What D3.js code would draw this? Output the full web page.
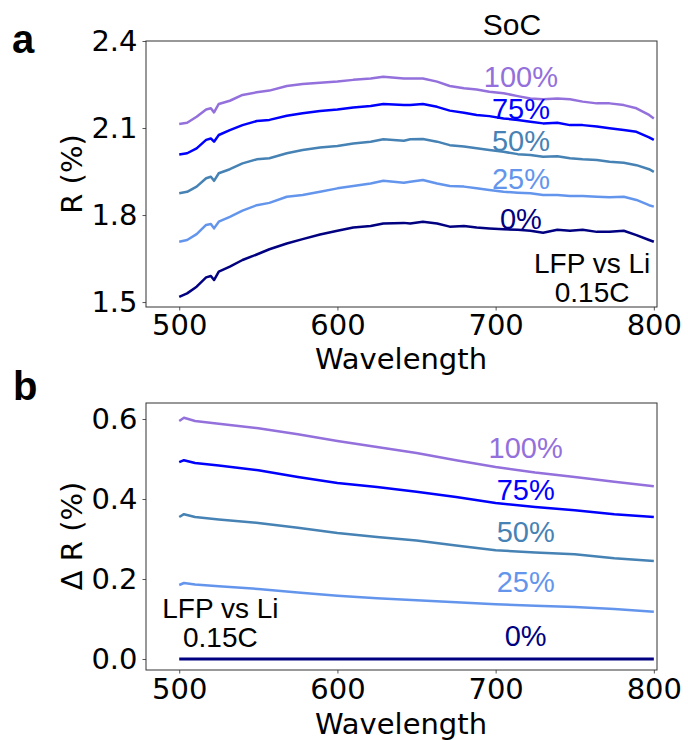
<!DOCTYPE html>
<meta charset="utf-8">
<style>
body { margin: 0; background: #fff; }
.tick text { font: 29px "DejaVu Sans", sans-serif; fill: #000; }
.tick line { stroke: #555; }
.frame { fill: none; stroke: #333; stroke-width: 1; }
.lbl { font-family: "Liberation Sans", Arial, sans-serif; }
</style>
<svg width="688" height="740"></svg>
<script src="https://d3js.org/d3.v7.min.js"></script>
<script>

// panel a: reflectance spectra at each state of charge
var wl = [500,505,511,517,520,522,525,532,540,549,557,568,578,589,600,610,621,629,642,646,
          654,663,671,680,688,696,705,714,722,730,739,747,755,764,772,781,789,797,800];
var r100 = [2.114,2.118,2.139,2.164,2.168,2.154,2.183,2.194,2.214,2.223,2.229,2.245,2.252,2.256,2.260,2.266,2.271,2.277,2.271,2.271,
            2.271,2.260,2.245,2.237,2.233,2.225,2.220,2.210,2.202,2.199,2.202,2.199,2.191,2.185,2.185,2.179,2.168,2.145,2.133];
var r75 = [2.009,2.013,2.030,2.059,2.064,2.053,2.076,2.093,2.110,2.124,2.128,2.142,2.151,2.159,2.164,2.171,2.176,2.183,2.179,2.179,
           2.183,2.173,2.160,2.153,2.145,2.141,2.133,2.128,2.122,2.116,2.118,2.110,2.110,2.105,2.099,2.093,2.087,2.068,2.059];
var r50 = [1.875,1.880,1.898,1.927,1.932,1.918,1.944,1.958,1.978,1.992,1.996,2.013,2.024,2.033,2.038,2.047,2.053,2.061,2.056,2.061,
           2.062,2.053,2.041,2.036,2.030,2.024,2.018,2.010,2.007,2.001,2.003,1.996,1.992,1.990,1.984,1.980,1.972,1.958,1.949];
var r25 = [1.708,1.714,1.734,1.766,1.769,1.754,1.777,1.794,1.815,1.834,1.842,1.863,1.869,1.880,1.892,1.900,1.909,1.918,1.911,1.915,
           1.921,1.909,1.900,1.898,1.892,1.886,1.880,1.877,1.875,1.869,1.869,1.866,1.866,1.863,1.861,1.863,1.852,1.834,1.829];
var r0 = [1.518,1.530,1.553,1.585,1.590,1.576,1.605,1.622,1.645,1.664,1.682,1.702,1.717,1.733,1.746,1.757,1.762,1.771,1.773,1.771,
          1.777,1.771,1.760,1.762,1.757,1.754,1.751,1.749,1.746,1.739,1.749,1.746,1.749,1.742,1.742,1.746,1.731,1.714,1.708];

// panel b: change in reflectance relative to 0% SoC
var wlB = [500,503,510,525,550,575,600,625,650,675,700,725,750,775,800];
var d100 = [0.595,0.603,0.595,0.588,0.577,0.562,0.545,0.530,0.515,0.497,0.480,0.466,0.455,0.443,0.432];
var d75 = [0.492,0.497,0.490,0.484,0.472,0.455,0.440,0.430,0.418,0.405,0.390,0.380,0.372,0.362,0.355];
var d50 = [0.355,0.362,0.355,0.349,0.340,0.328,0.315,0.305,0.296,0.284,0.272,0.266,0.262,0.252,0.245];
var d25 = [0.185,0.190,0.186,0.182,0.175,0.166,0.158,0.152,0.147,0.142,0.137,0.133,0.130,0.125,0.118];
var d0 = [0,0,0,0,0,0,0,0,0,0,0,0,0,0,0];

var socLabels = ["100%", "75%", "50%", "25%", "0%"];
var colors = ["#9370db", "#0000ff", "#4682b4", "#6495ed", "#000080"];
var xTicks = [500, 600, 700, 800];
var yTicksA = [1.5, 1.8, 2.1, 2.4];
var yTicksB = [0.0, 0.2, 0.4, 0.6];

var svg = d3.select("svg");

var x = d3.scaleLinear().domain([479, 802]).range([146, 657]);
var yA = d3.scaleLinear().domain([1.483, 2.4]).range([307, 41]);
var yB = d3.scaleLinear().domain([-0.0275, 0.64]).range([670, 403]);

function panel(y, yTicks, series, xs, widths, xPad) {
  var g = svg.append("g");
  var gx = g.append("g")
      .attr("transform", "translate(0," + y.range()[0] + ")")
      .call(d3.axisBottom(x).tickValues(xTicks).tickSize(3.5).tickPadding(xPad).tickFormat(d3.format("d")));
  var gy = g.append("g")
      .attr("transform", "translate(" + x.range()[0] + ",0)")
      .call(d3.axisLeft(y).tickValues(yTicks).tickSize(3.5).tickPadding(5).tickFormat(d3.format(".1f")));
  gx.select(".domain").remove();
  gy.select(".domain").remove();

  var line = d3.line()
      .x(function(d) { return x(d[0]); })
      .y(function(d) { return y(d[1]); });

  series.forEach(function(s, i) {
    g.append("path")
        .datum(xs.map(function(w, j) { return [w, s[j]]; }))
        .attr("fill", "none")
        .attr("stroke", colors[i])
        .attr("stroke-width", widths[i])
        .attr("stroke-linejoin", "round")
        .attr("d", line);
  });

  g.append("rect").attr("class", "frame")
      .attr("x", x.range()[0]).attr("y", y.range()[1])
      .attr("width", x.range()[1] - x.range()[0])
      .attr("height", y.range()[0] - y.range()[1]);
  return g;
}

var gA = panel(yA, yTicksA, [r100, r75, r50, r25, r0], wl, [2.5, 2.5, 2.5, 2.5, 2.5], 4);
var gB = panel(yB, yTicksB, [d100, d75, d50, d25, d0], wlB, [2.5, 2.5, 2.5, 2.5, 3], 5);

// soc labels
var labYA = [2.242, 2.131, 2.021, 1.890, 1.752];
var labYB = [0.5025, 0.3975, 0.2925, 0.1675, 0.0325];
socLabels.forEach(function(t, i) {
  gA.append("text").attr("class", "lbl")
      .attr("x", x(716)).attr("y", yA(labYA[i]))
      .attr("text-anchor", "middle").attr("font-size", 29)
      .attr("fill", colors[i]).text(t);
  gB.append("text").attr("class", "lbl")
      .attr("x", x(719)).attr("y", yB(labYB[i]))
      .attr("text-anchor", "middle").attr("font-size", 29)
      .attr("fill", colors[i]).text(t);
});

function note(g, y, cx, y1, y2) {
  g.append("text").attr("class", "lbl").attr("x", x(cx)).attr("y", y(y1))
      .attr("text-anchor", "middle").attr("font-size", 28).text("LFP vs Li");
  g.append("text").attr("class", "lbl").attr("x", x(cx)).attr("y", y(y2))
      .attr("text-anchor", "middle").attr("font-size", 28).text("0.15C");
}
note(gA, yA, 761, 1.600, 1.500);
note(gB, yB, 526, 0.1025, 0.030);

svg.append("text").attr("class", "lbl")
    .attr("x", 512).attr("y", 35).attr("text-anchor", "middle")
    .attr("font-size", 30).text("SoC");

// axis titles
function axisText(tx, ty, rot, t) {
  var el = svg.append("text")
      .attr("transform", "translate(" + tx + "," + ty + ")" + (rot ? " rotate(-90)" : ""))
      .attr("text-anchor", "middle")
      .attr("font-family", "DejaVu Sans, sans-serif")
      .attr("font-size", 29)
      .text(t);
  if (rot) el.attr("dy", "0.35em");
  return el;
}
axisText(401, 369, false, "Wavelength");
axisText(401, 734, false, "Wavelength");
axisText(72, 174, true, "R (%)");
axisText(72, 536, true, "\u0394 R (%)");

// panel letters
svg.append("text").attr("class", "lbl").attr("x", 12).attr("y", 53)
    .attr("font-size", 40).attr("font-weight", "bold").text("a");
svg.append("text").attr("class", "lbl").attr("x", 13).attr("y", 400)
    .attr("font-size", 40).attr("font-weight", "bold").text("b");

</script>
